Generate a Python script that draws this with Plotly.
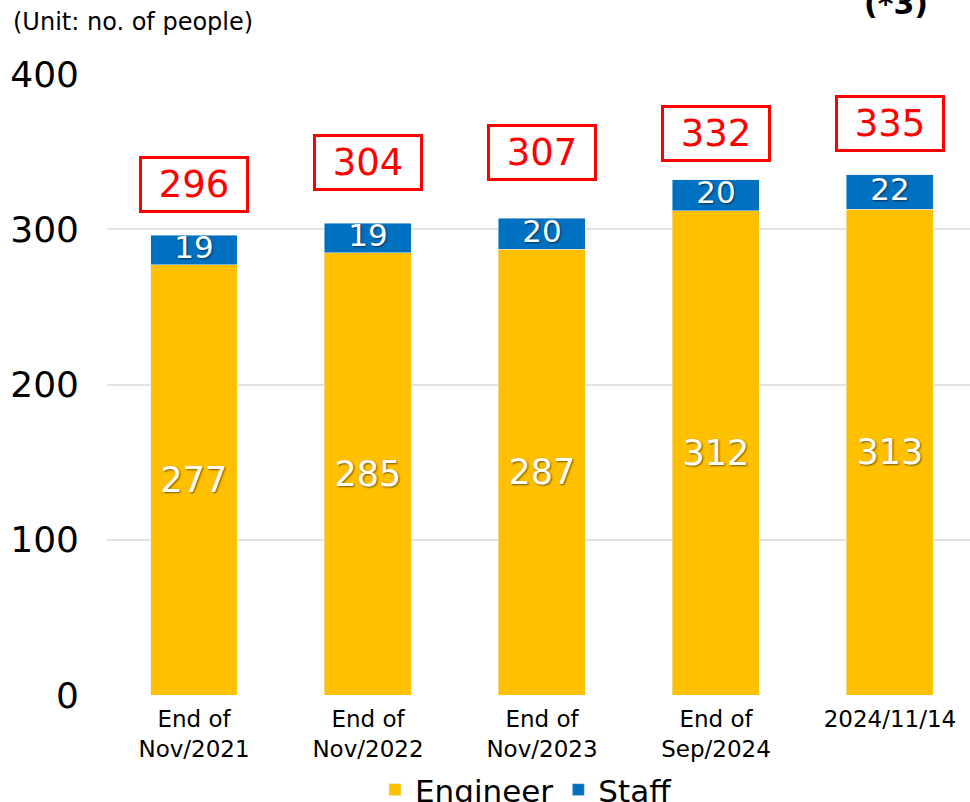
import plotly.graph_objects as go

categories = ["End of<br>Nov/2021", "End of<br>Nov/2022", "End of<br>Nov/2023", "End of<br>Sep/2024", "2024/11/14"]
engineer = [277, 285, 287, 312, 313]
staff = [19, 19, 20, 20, 22]
totals = [296, 304, 307, 332, 335]
y_ticks = [0, 100, 200, 300, 400]

# layout-only: vertical centre (in axis units) of each total box
total_box_y = [328.8, 343.0, 349.4, 362.0, 368.4]

FONT = "DejaVu Sans"
SHADOW = "1px 1px 2px rgba(0,0,0,0.55)"
x = list(range(len(categories)))

# body margin removed via post_script, so the figure fills the 970x802 page
W, H = 970, 802
ML, MT, MB = 107, 74, 107
PW, PH = W - ML, H - MT - MB

fig = go.Figure()
fig.add_trace(go.Bar(
    x=x, y=engineer, name="Engineer", marker_color="#FFC000", width=0.5,
    text=[str(v) for v in engineer], textposition="inside", insidetextanchor="middle",
    textfont=dict(color="white", size=35, family=FONT, shadow=SHADOW), textangle=0,
))
fig.add_trace(go.Bar(
    x=x, y=staff, name="Staff", marker_color="#0070C0", width=0.5,
    textposition="none",
))
fig.add_trace(go.Scatter(
    x=x, y=[e + s / 2 for e, s in zip(engineer, staff)], mode="text",
    text=[str(v) for v in staff], textposition="middle center",
    textfont=dict(color="white", size=31, family=FONT, shadow=SHADOW),
    showlegend=False, hoverinfo="skip",
))

for xi, t, yb in zip(x, totals, total_box_y):
    fig.add_annotation(
        x=xi, y=yb, xref="x", yref="y", text=str(t), showarrow=False,
        font=dict(color="#FF0000", size=37, family=FONT),
        bordercolor="#FF0000", borderwidth=3, borderpad=0,
        width=104, height=51, bgcolor="white", yanchor="middle", xanchor="center",
    )

fig.add_annotation(x=(11 - ML) / PW, y=1 + (MT - 22) / PH, xref="paper", yref="paper",
                   text="(Unit: no. of people)", showarrow=False, xanchor="left", yanchor="middle",
                   font=dict(size=24, family=FONT, color="black"))
fig.add_annotation(x=(896 - ML) / PW, y=1 + (MT - 4) / PH, xref="paper", yref="paper",
                   text="<b>(*3)</b>", showarrow=False, xanchor="center", yanchor="middle",
                   font=dict(size=30, family=FONT, color="black"))

fig.update_layout(
    width=W, height=H,
    margin=dict(l=ML, r=0, t=MT, b=MB, autoexpand=False),
    paper_bgcolor="white", plot_bgcolor="white",
    barmode="stack",
    font=dict(family=FONT, color="black"),
    xaxis=dict(range=[-0.5, 4.46], tickvals=x, ticktext=categories, showgrid=False,
               zeroline=False, tickfont=dict(size=23, family=FONT), ticks="", ticklen=0,
               ticklabelstandoff=8),
    yaxis=dict(range=[0, 400], tickvals=y_ticks, showgrid=True, gridcolor="#E3E3E3",
               gridwidth=2, zeroline=False, tickfont=dict(size=36, family=FONT),
               ticklabelstandoff=27),
    legend=dict(orientation="h", x=(526 - ML) / PW, xanchor="center", y=-95 / PH, yanchor="middle",
                font=dict(size=31, family=FONT), traceorder="normal"),
    showlegend=True,
)

fig.write_html("out.html", config={"displayModeBar": False},
               post_script="document.body.style.margin='0';document.body.style.overflow='hidden';")
